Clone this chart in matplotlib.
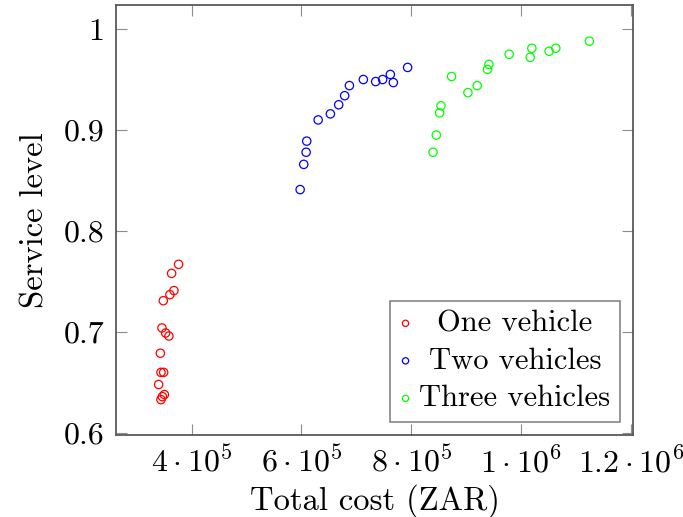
import matplotlib
matplotlib.use("Agg")
import matplotlib.pyplot as plt
from matplotlib.ticker import FixedLocator, FuncFormatter
from matplotlib.transforms import Affine2D

plt.rcParams["font.family"] = "serif"
plt.rcParams["font.serif"] = ["cmr10", "DejaVu Serif"]
plt.rcParams["mathtext.fontset"] = "cm"
plt.rcParams["axes.unicode_minus"] = False
plt.rcParams["axes.formatter.use_mathtext"] = True

# Total cost (ZAR) vs service level, per fleet size
one_cost = [376300, 363600, 367800, 360500, 348500, 346000, 352700, 358700,
            343100, 344200, 349100, 340000, 350400, 346700, 344200]
one_level = [0.767, 0.758, 0.741, 0.737, 0.731, 0.704, 0.699, 0.696,
             0.679, 0.660, 0.660, 0.648, 0.638, 0.636, 0.633]

two_cost = [793300, 761800, 767300, 747800, 735100, 712700, 687300, 678700,
            667800, 652700, 630400, 609600, 608500, 604200, 597600]
two_level = [0.962, 0.955, 0.947, 0.950, 0.948, 0.950, 0.944, 0.934,
             0.925, 0.916, 0.910, 0.889, 0.878, 0.866, 0.841]

three_cost = [1124200, 1063100, 1050900, 1019500, 1016400, 978200, 941300, 938700,
              920000, 903100, 873300, 854000, 851500, 845500, 839500]
three_level = [0.988, 0.981, 0.978, 0.981, 0.972, 0.975, 0.965, 0.960,
               0.944, 0.937, 0.953, 0.924, 0.917, 0.895, 0.878]

x_ticks = [4e5, 6e5, 8e5, 1e6, 1.2e6]
x_tick_labels = [r"$4\cdot10^{5}$", r"$6\cdot10^{5}$", r"$8\cdot10^{5}$",
                 r"$1\cdot10^{6}$", r"$1.2\cdot10^{6}$"]
y_ticks = [0.6, 0.7, 0.8, 0.9, 1.0]
y_tick_labels = ["0.6", "0.7", "0.8", "0.9", "1"]

fig = plt.figure(figsize=(6.83, 5.17), dpi=100)
ax = fig.add_axes([115.7 / 683, 1 - 435.3 / 517, (633.3 - 115.7) / 683, (435.3 - 5) / 517])

fs = 23.5
mk = dict(s=36, facecolors="none", linewidths=0.9)
ax.scatter(one_cost, one_level, edgecolors="red", label="One vehicle", **mk)
ax.scatter(two_cost, two_level, edgecolors="blue", label="Two vehicles", **mk)
ax.scatter(three_cost, three_level, edgecolors="#00ff00", label="Three vehicles", **mk)

ax.set_xlim(2.618e5, 1.2042e6)
ax.set_ylim(0.5977, 1.0238)
ax.xaxis.set_major_locator(FixedLocator(x_ticks))
ax.xaxis.set_major_formatter(FuncFormatter(lambda v, i: x_tick_labels[i] if i is not None and i < len(x_tick_labels) else ""))
ax.yaxis.set_major_locator(FixedLocator(y_ticks))
ax.yaxis.set_major_formatter(FuncFormatter(lambda v, i: y_tick_labels[i] if i is not None and i < len(y_tick_labels) else ""))
ax.tick_params(direction="in", length=8, width=0.8, color="0.55", top=True, right=True,
               labelsize=23, pad=8)
for sp in ax.spines.values():
    sp.set_color("0.35")
    sp.set_linewidth(1.3)

ax.set_xlabel("Total cost (ZAR)", fontsize=fs, labelpad=4)
ax.set_ylabel("Service level", fontsize=fs, labelpad=10)

leg = ax.legend(loc="lower right", fontsize=22, frameon=True, fancybox=False,
                edgecolor="0.35", borderpad=0.3, labelspacing=0.33,
                handlelength=0.4, handletextpad=0.25, borderaxespad=0.45,
                scatterpoints=1, markerscale=0.75)
leg.get_frame().set_linewidth(1.1)

# center the legend labels against the widest one
fig.canvas.draw()
r = fig.canvas.get_renderer()
texts = leg.get_texts()
widths = [t.get_window_extent(r).width for t in texts]
wmax = max(widths)
for t, w in zip(texts, widths):
    t.set_transform(t.get_transform() + Affine2D().translate((wmax - w) / 2, 0))

fig.savefig("out.png", dpi=100)
